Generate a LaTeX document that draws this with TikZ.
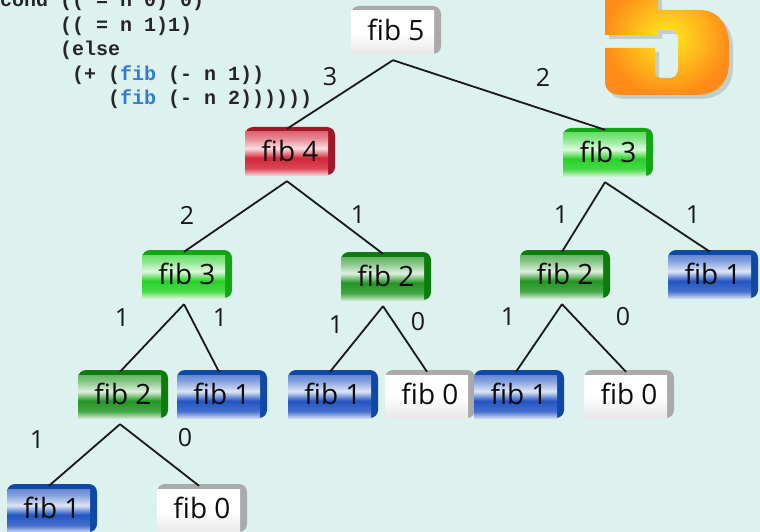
\documentclass[tikz,border=0pt]{standalone}
\usepackage{fontspec}
\setmainfont{Open Sans}
\newfontfamily\codefont{Liberation Mono}
\usetikzlibrary{calc}
\definecolor{bg}{RGB}{221,241,238}
\definecolor{redC}{RGB}{212,38,58}\definecolor{redE}{RGB}{160,24,40}
\definecolor{lgrC}{RGB}{40,210,40}\definecolor{lgrE}{RGB}{20,165,20}
\definecolor{dgrC}{RGB}{35,150,35}\definecolor{dgrE}{RGB}{12,125,12}
\definecolor{bluC}{RGB}{35,85,195}\definecolor{bluE}{RGB}{15,72,165}
\definecolor{gryC}{RGB}{232,232,232}\definecolor{gryE}{RGB}{170,170,170}
\definecolor{codeblue}{RGB}{50,125,210}
\definecolor{fiveO}{RGB}{255,140,25}
\definecolor{fiveY}{RGB}{255,235,30}
\newcommand\mkbtnshade[1]{\pgfdeclareverticalshading{btn#1}{100bp}{%
 color(0bp)=(#1C!25!white); color(25bp)=(#1C!25!white);
 color(33bp)=(#1C!85!white); color(45bp)=(#1C); color(56bp)=(#1C!15!white);
 color(68bp)=(#1C!55!white); color(75bp)=(#1C!70!white); color(100bp)=(#1C!70!white)}}
\mkbtnshade{red}\mkbtnshade{lgr}\mkbtnshade{dgr}\mkbtnshade{blu}
\pgfdeclareverticalshading{btngry}{100bp}{%
 color(0bp)=(gryC); color(25bp)=(gryC); color(35bp)=(gryC!60!white);
 color(50bp)=(white); color(75bp)=(white); color(100bp)=(white)}
\tikzset{
 btn/.style={rectangle, minimum width=90pt, minimum height=48pt, inner sep=0pt,
   font=\fontsize{28}{30}\selectfont, text=black!95,
   path picture={
     \fill[#1E, rounded corners=8pt] (path picture bounding box.south west) rectangle (path picture bounding box.north east);
     \shade[shading=btn#1] (path picture bounding box.south west) rectangle ([xshift=-7pt,yshift=-5pt]path picture bounding box.north east);
   }},
 lbl/.style={font=\fontsize{25}{27}\selectfont, text=black!90, inner sep=0pt},
 conn/.style={line width=1.8pt, black!90},
 codeline/.style={font=\codefont\bfseries\fontsize{20}{24}\selectfont, anchor=base west, inner sep=0pt, text=black!85},
}
\newcommand\fibkw{\textcolor{codeblue}{fib}}
\begin{document}
\begin{tikzpicture}[x=1pt,y=-1pt]
\fill[bg] (0,0) rectangle (760,532);
\useasboundingbox (0,0) rectangle (760,532);
% big five
\fill[gray, opacity=0.3, shift={(4,4)}] (605,-20) -- (658,-20) -- (658,10) -- (700,10) .. controls (718,10) and (729,25) .. (729,45) -- (729,62) .. controls (729,84) and (716,95) .. (695,95) -- (622,95) .. controls (611,95) and (605,90) .. (605,82) -- (605,48) -- (655,48) -- (655,72) .. controls (655,76) and (658,78) .. (662,78) -- (670,78) .. controls (675,78) and (678,74) .. (678,68) -- (678,40) .. controls (678,33) and (675,30) .. (670,30) -- (658,30) -- (658,35) -- (605,35) -- cycle;
\shade[inner color=fiveY, outer color=fiveO] (605,-20) -- (658,-20) -- (658,10) -- (700,10) .. controls (718,10) and (729,25) .. (729,45) -- (729,62) .. controls (729,84) and (716,95) .. (695,95) -- (622,95) .. controls (611,95) and (605,90) .. (605,82) -- (605,48) -- (655,48) -- (655,72) .. controls (655,76) and (658,78) .. (662,78) -- (670,78) .. controls (675,78) and (678,74) .. (678,68) -- (678,40) .. controls (678,33) and (675,30) .. (670,30) -- (658,30) -- (658,35) -- (605,35) -- cycle;
% code
\node[codeline] (c1) at (0,7) {cond (( = n 0) 0)};
\node[codeline] (c2) at (60,31.5) {(( = n 1)1)};
\node[codeline] (c3) at (60,56) {(else};
\node[codeline] (c4) at (72,80.5) {(+ (\fibkw{} (- n 1))};
\node[codeline] (c5) at (108,105) {(\fibkw{} (- n 2))))))};
% nodes
\node[btn=gry] (n5) at (396,30) {fib 5};
\node[btn=red] (n4) at (290,151) {fib 4};
\node[btn=lgr] (n3r) at (608,152) {fib 3};
\node[btn=lgr] (n3l) at (187,274) {fib 3};
\node[btn=dgr] (n2m) at (386,276) {fib 2};
\node[btn=dgr] (n2r) at (565,274) {fib 2};
\node[btn=blu] (n1r) at (713,274) {fib 1};
\node[btn=dgr] (n2l) at (123,394) {fib 2};
\node[btn=blu] (n1a) at (222,394) {fib 1};
\node[btn=blu] (n1b) at (333,394) {fib 1};
\node[btn=gry] (n0a) at (430,394) {fib 0};
\node[btn=blu] (n1c) at (519,394) {fib 1};
\node[btn=gry] (n0b) at (629,394) {fib 0};
\node[btn=blu] (n1d) at (52,508) {fib 1};
\node[btn=gry] (n0c) at (202,508) {fib 0};
% connectors
\foreach \p/\c in {n5/n4, n5/n3r, n4/n3l, n4/n2m, n3r/n2r, n3r/n1r, n3l/n2l, n3l/n1a, n2m/n1b, n2m/n0a, n2r/n1c, n2r/n0b, n2l/n1d, n2l/n0c}
  \draw[conn] ([xshift=-3pt,yshift=-6pt]\p.south) -- ([xshift=-3pt,yshift=-2pt]\c.north);
% labels
\node[lbl] (l1) at (330,77) {3};
\node[lbl] (l2) at (543,77) {2};
\node[lbl] (l3) at (187,215) {2};
\node[lbl] (l4) at (358,215) {1};
\node[lbl] (l5) at (561,215) {1};
\node[lbl] (l6) at (693,215) {1};
\node[lbl] (l7) at (122,318) {1};
\node[lbl] (l8) at (220,318) {1};
\node[lbl] (l9) at (336,325) {1};
\node[lbl] (l10) at (418,322) {0};
\node[lbl] (l11) at (508,317) {1};
\node[lbl] (l12) at (623,317) {0};
\node[lbl] (l13) at (37,440) {1};
\node[lbl] (l14) at (185,438) {0};
\end{tikzpicture}
\end{document}
